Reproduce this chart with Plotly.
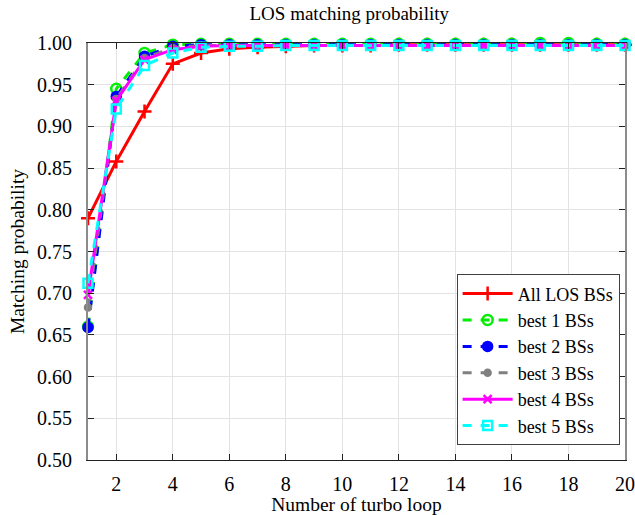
import plotly.graph_objects as go

loops = list(range(1, 21))
all_los = [0.790, 0.858, 0.918, 0.975, 0.988, 0.993, 0.995, 0.996, 0.997, 0.997, 0.997, 0.998, 0.998, 0.998, 0.998, 0.998, 0.998, 0.998, 0.998, 0.998]
best1 = [0.660, 0.945, 0.988, 0.998, 0.999, 0.999, 0.999, 0.999, 0.999, 0.999, 0.999, 0.999, 0.999, 0.999, 0.999, 0.999, 1.000, 1.000, 0.999, 0.999]
best2 = [0.659, 0.936, 0.984, 0.996, 0.998, 0.998, 0.998, 0.998, 0.998, 0.998, 0.998, 0.998, 0.998, 0.998, 0.998, 0.998, 0.998, 0.998, 0.998, 0.998]
best3 = [0.683, 0.933, 0.982, 0.994, 0.997, 0.997, 0.997, 0.997, 0.997, 0.997, 0.997, 0.997, 0.997, 0.997, 0.997, 0.997, 0.997, 0.997, 0.997, 0.997]
best4 = [0.698, 0.931, 0.980, 0.992, 0.996, 0.997, 0.997, 0.997, 0.997, 0.997, 0.997, 0.997, 0.997, 0.997, 0.997, 0.997, 0.997, 0.997, 0.997, 0.997]
best5 = [0.712, 0.921, 0.973, 0.988, 0.995, 0.996, 0.996, 0.997, 0.997, 0.997, 0.997, 0.997, 0.997, 0.997, 0.997, 0.997, 0.997, 0.997, 0.997, 0.997]

series = [
    ("All LOS BSs", all_los, "#ff0000", "solid", "cross-thin", 10),
    ("best 1 BSs", best1, "#00ee00", "dash", "circle-open", 10),
    ("best 2 BSs", best2, "#0000ff", "dash", "circle", 9),
    ("best 3 BSs", best3, "#808080", "dash", "circle", 6),
    ("best 4 BSs", best4, "#ff00ff", "solid", "x-thin", 8),
    ("best 5 BSs", best5, "#00ffff", "dash", "square-open", 9),
]

fig = go.Figure()
for name, ys, color, dash, sym, size in series:
    fig.add_trace(go.Scatter(
        x=loops, y=ys, name=name, mode="lines+markers", cliponaxis=False,
        line=dict(color=color, width=3, dash=dash),
        marker=dict(symbol=sym, size=size, color=color,
                    line=dict(color=color, width=2.5)),
    ))

font = "Times New Roman, Liberation Serif, serif"
fig.update_layout(
    width=635, height=515,
    margin=dict(l=88, r=10, t=43, b=55),
    paper_bgcolor="white", plot_bgcolor="white",
    font=dict(family=font, size=19, color="black"),
    title=dict(text="LOS matching probability", x=0.55, xanchor="center", y=0.987, yanchor="top",
               font=dict(family=font, size=19)),
    showlegend=True,
    legend=dict(x=0.99, y=0.035, xanchor="right", yanchor="bottom",
                bgcolor="white", bordercolor="#404040", borderwidth=1,
                font=dict(family=font, size=18), tracegroupgap=0, itemwidth=50),
)
fig.update_xaxes(
    range=[1, 20], tickvals=list(range(2, 21, 2)), automargin=False,
    title=dict(text="Number of turbo loop", font=dict(family=font, size=19.5), standoff=8),
    showgrid=True, gridcolor="#e3e3e3", gridwidth=1,
    showline=True, linecolor="#222222", linewidth=1, mirror="ticks",
    ticks="inside", ticklen=6, tickcolor="#222222", zeroline=False,
    tickfont=dict(family=font, size=20), ticklabelstandoff=6,
)
fig.update_yaxes(
    range=[0.5, 1.0], tickvals=[0.5 + 0.05 * i for i in range(11)], tickformat=".2f", automargin=False,
    title=dict(text="Matching probability", font=dict(family=font, size=19.5), standoff=7),
    showgrid=True, gridcolor="#e3e3e3", gridwidth=1,
    showline=True, linecolor="#8c8c8c", linewidth=2, mirror="ticks",
    ticks="inside", ticklen=6, tickcolor="#222222", zeroline=False,
    tickfont=dict(family=font, size=20), ticklabelstandoff=10,
)
fig.write_html("out.html")
